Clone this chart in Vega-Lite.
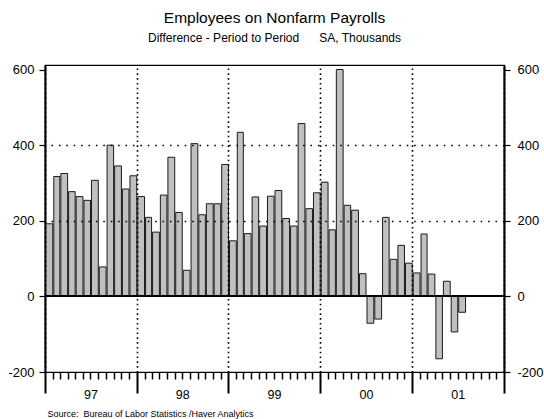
{
  "$schema": "https://vega.github.io/schema/vega-lite/v6.json",
  "width": 459,
  "height": 307,
  "autosize": "none",
  "padding": {"left": 45, "top": 65, "right": 40, "bottom": 47},
  "background": "white",
  "config": {
    "font": "Liberation Sans",
    "view": {"stroke": "black", "strokeWidth": 1.2},
    "axis": {"labelColor": "black", "tickColor": "black", "domainColor": "black", "labelFont": "Liberation Sans"}
  },
  "title": {
    "text": "Employees on Nonfarm Payrolls",
    "subtitle": "Difference - Period to Period\u00a0\u00a0\u00a0\u00a0\u00a0\u00a0SA, Thousands",
    "fontSize": 15.5,
    "fontWeight": "normal",
    "subtitleFontSize": 12,
    "subtitleColor": "black",
    "subtitlePadding": 6,
    "anchor": "middle",
    "frame": "group",
    "offset": 20,
    "color": "black"
  },
  "data": {
    "values": [
      {"date": "1997-01-01", "value": 192}, {"date": "1997-02-01", "value": 317}, {"date": "1997-03-01", "value": 325},
      {"date": "1997-04-01", "value": 277}, {"date": "1997-05-01", "value": 264}, {"date": "1997-06-01", "value": 254},
      {"date": "1997-07-01", "value": 307}, {"date": "1997-08-01", "value": 78}, {"date": "1997-09-01", "value": 400},
      {"date": "1997-10-01", "value": 345}, {"date": "1997-11-01", "value": 284}, {"date": "1997-12-01", "value": 319},
      {"date": "1998-01-01", "value": 264}, {"date": "1998-02-01", "value": 209}, {"date": "1998-03-01", "value": 170},
      {"date": "1998-04-01", "value": 268}, {"date": "1998-05-01", "value": 368}, {"date": "1998-06-01", "value": 222},
      {"date": "1998-07-01", "value": 69}, {"date": "1998-08-01", "value": 404}, {"date": "1998-09-01", "value": 216},
      {"date": "1998-10-01", "value": 245}, {"date": "1998-11-01", "value": 245}, {"date": "1998-12-01", "value": 349},
      {"date": "1999-01-01", "value": 147}, {"date": "1999-02-01", "value": 434}, {"date": "1999-03-01", "value": 166},
      {"date": "1999-04-01", "value": 263}, {"date": "1999-05-01", "value": 186}, {"date": "1999-06-01", "value": 265},
      {"date": "1999-07-01", "value": 280}, {"date": "1999-08-01", "value": 206}, {"date": "1999-09-01", "value": 186},
      {"date": "1999-10-01", "value": 457}, {"date": "1999-11-01", "value": 232}, {"date": "1999-12-01", "value": 274},
      {"date": "2000-01-01", "value": 302}, {"date": "2000-02-01", "value": 176}, {"date": "2000-03-01", "value": 600},
      {"date": "2000-04-01", "value": 241}, {"date": "2000-05-01", "value": 228}, {"date": "2000-06-01", "value": 60},
      {"date": "2000-07-01", "value": -71}, {"date": "2000-08-01", "value": -60}, {"date": "2000-09-01", "value": 209},
      {"date": "2000-10-01", "value": 98}, {"date": "2000-11-01", "value": 135}, {"date": "2000-12-01", "value": 88},
      {"date": "2001-01-01", "value": 62}, {"date": "2001-02-01", "value": 165}, {"date": "2001-03-01", "value": 59},
      {"date": "2001-04-01", "value": -165}, {"date": "2001-05-01", "value": 40}, {"date": "2001-06-01", "value": -94},
      {"date": "2001-07-01", "value": -42}
    ]
  },
  "layer": [
    {
      "mark": {"type": "bar", "fill": "#c0c0c0", "stroke": "#1a1a1a", "strokeWidth": 1},
      "encoding": {
        "x": {
          "field": "date", "timeUnit": "utcyearmonth", "type": "temporal",
          "scale": {"type": "utc", "domain": [{"year": 1997, "month": 1, "date": 1, "utc": true}, {"year": 2002, "month": 1, "date": 1, "utc": true}]},
          "axis": {"orient": "bottom", "title": null, "labels": false, "ticks": false, "domain": false, "grid": false}
        },
        "y": {
          "field": "value", "type": "quantitative",
          "scale": {"domain": [-200, 612], "nice": false, "zero": false},
          "axis": {"orient": "left", "title": null, "values": [-200, 0, 200, 400, 600], "grid": false, "tickSize": 6, "tickWidth": 1.2, "labelPadding": 5, "labelFontSize": 13, "domainWidth": 2, "labelExpr": "'' + datum.value"}
        }
      }
    },
    {
      "mark": {"type": "rule", "color": "black", "strokeWidth": 1},
      "encoding": {
        "y": {
          "datum": 0, "type": "quantitative",
          "axis": {"orient": "right", "title": null, "values": [-200, 0, 200, 400, 600], "tickSize": 6, "tickWidth": 1.2, "labelPadding": 7, "labelFontSize": 13, "domainWidth": 2, "labelExpr": "'' + datum.value",
            "grid": true, "gridColor": "black", "gridWidth": 1.6, "gridDash": [1.6, 5.8], "zindex": 1,
            "gridOpacity": {"condition": {"test": "datum.value == 200 || datum.value == 400", "value": 1}, "value": 0}}
        }
      }
    },
    {
      "mark": {"type": "point", "opacity": 0},
      "encoding": {
        "x": {
          "field": "date", "timeUnit": "utcyearmonth", "type": "temporal",
          "axis": {"orient": "bottom", "title": null, "labels": false, "domain": false, "tickSize": 21, "tickWidth": 2,
            "values": [{"year": 1997, "month": 1, "date": 1, "utc": true}, {"year": 1998, "month": 1, "date": 1, "utc": true}, {"year": 1999, "month": 1, "date": 1, "utc": true}, {"year": 2000, "month": 1, "date": 1, "utc": true}, {"year": 2001, "month": 1, "date": 1, "utc": true}, {"year": 2002, "month": 1, "date": 1, "utc": true}],
            "grid": true, "gridColor": "black", "gridWidth": 1.6, "gridDash": [1.6, 3.2], "zindex": 1}
        }
      }
    },
    {
      "mark": {"type": "point", "opacity": 0},
      "encoding": {
        "x": {
          "field": "date", "timeUnit": "utcyearmonth", "type": "temporal",
          "axis": {"orient": "bottom", "domain": false, "ticks": true, "tickSize": 7, "tickWidth": 1.5, "tickOpacity": 1, "tickColor": "#000000", "grid": false, "zindex": 1, "labelPadding": 9, "labelFontSize": 12.5, "labelBaseline": "top", "labelOverlap": false, "labelFlush": false, "labelBound": false,
            "labelExpr": "utcmonth(datum.value) == 6 ? utcFormat(datum.value, '%y') : ''",
            "values": [
              {"year": 1997, "month": 2, "utc": true}, {"year": 1997, "month": 3, "utc": true}, {"year": 1997, "month": 4, "utc": true}, {"year": 1997, "month": 5, "utc": true}, {"year": 1997, "month": 6, "utc": true}, {"year": 1997, "month": 7, "utc": true}, {"year": 1997, "month": 8, "utc": true}, {"year": 1997, "month": 9, "utc": true}, {"year": 1997, "month": 10, "utc": true}, {"year": 1997, "month": 11, "utc": true}, {"year": 1997, "month": 12, "utc": true},
              {"year": 1998, "month": 2, "utc": true}, {"year": 1998, "month": 3, "utc": true}, {"year": 1998, "month": 4, "utc": true}, {"year": 1998, "month": 5, "utc": true}, {"year": 1998, "month": 6, "utc": true}, {"year": 1998, "month": 7, "utc": true}, {"year": 1998, "month": 8, "utc": true}, {"year": 1998, "month": 9, "utc": true}, {"year": 1998, "month": 10, "utc": true}, {"year": 1998, "month": 11, "utc": true}, {"year": 1998, "month": 12, "utc": true},
              {"year": 1999, "month": 2, "utc": true}, {"year": 1999, "month": 3, "utc": true}, {"year": 1999, "month": 4, "utc": true}, {"year": 1999, "month": 5, "utc": true}, {"year": 1999, "month": 6, "utc": true}, {"year": 1999, "month": 7, "utc": true}, {"year": 1999, "month": 8, "utc": true}, {"year": 1999, "month": 9, "utc": true}, {"year": 1999, "month": 10, "utc": true}, {"year": 1999, "month": 11, "utc": true}, {"year": 1999, "month": 12, "utc": true},
              {"year": 2000, "month": 2, "utc": true}, {"year": 2000, "month": 3, "utc": true}, {"year": 2000, "month": 4, "utc": true}, {"year": 2000, "month": 5, "utc": true}, {"year": 2000, "month": 6, "utc": true}, {"year": 2000, "month": 7, "utc": true}, {"year": 2000, "month": 8, "utc": true}, {"year": 2000, "month": 9, "utc": true}, {"year": 2000, "month": 10, "utc": true}, {"year": 2000, "month": 11, "utc": true}, {"year": 2000, "month": 12, "utc": true},
              {"year": 2001, "month": 2, "utc": true}, {"year": 2001, "month": 3, "utc": true}, {"year": 2001, "month": 4, "utc": true}, {"year": 2001, "month": 5, "utc": true}, {"year": 2001, "month": 6, "utc": true}, {"year": 2001, "month": 7, "utc": true}, {"year": 2001, "month": 8, "utc": true}, {"year": 2001, "month": 9, "utc": true}, {"year": 2001, "month": 10, "utc": true}, {"year": 2001, "month": 11, "utc": true}, {"year": 2001, "month": 12, "utc": true}
            ],
            "title": "Source:\u00a0\u00a0Bureau of Labor Statistics /Haver Analytics",
            "titleFontSize": 9, "titleFontWeight": "normal", "titleColor": "black", "titleAnchor": "start", "titleAlign": "left", "titleX": 2, "titleY": 44, "titleBaseline": "alphabetic"}
        }
      }
    }
  ],
  "resolve": {"axis": {"x": "independent", "y": "independent"}}
}
